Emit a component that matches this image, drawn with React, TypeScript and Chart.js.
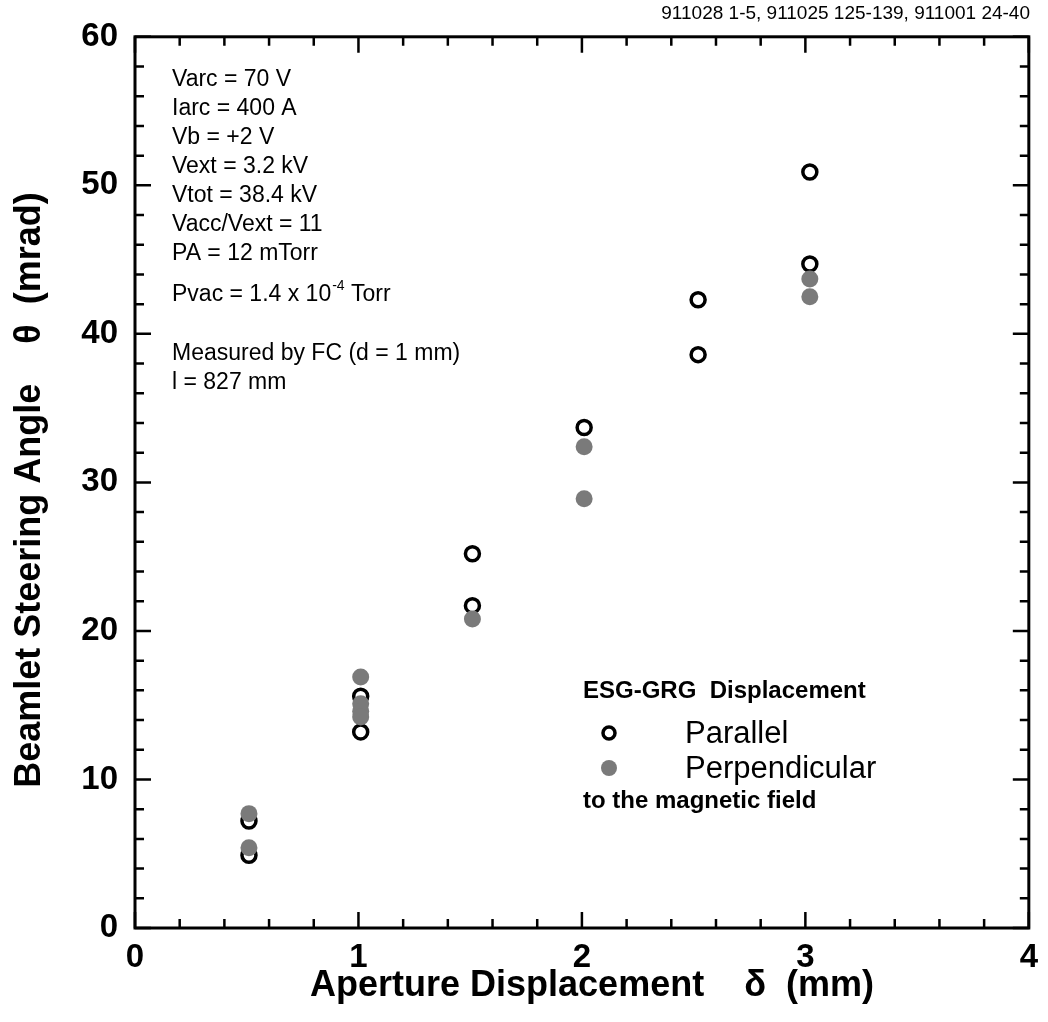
import { useEffect, useRef } from 'react';
import { Chart, registerables } from 'chart.js';

Chart.register(...registerables);

// ---- data ----
const parallelX = [0.51, 0.51, 1.01, 1.01, 1.51, 1.51, 2.01, 2.52, 2.52, 3.02, 3.02];
const parallelY = [7.2, 4.9, 15.6, 13.2, 25.2, 21.7, 33.7, 42.3, 38.6, 50.9, 44.7];
const perpX = [0.51, 0.51, 1.01, 1.01, 1.01, 1.01, 1.51, 2.01, 2.01, 3.02, 3.02];
const perpY = [7.7, 5.4, 16.9, 15.1, 14.6, 14.2, 20.8, 32.4, 28.9, 43.7, 42.5];

const xMajorTicks = [0, 1, 2, 3, 4];
const yMajorTicks = [0, 10, 20, 30, 40, 50, 60];
const xMinorStep = 0.2;
const yMinorStep = 2;

const headerText = '911028 1-5, 911025 125-139, 911001 24-40';
const xTitle = 'Aperture Displacement    \u03b4  (mm)';
const yTitle = 'Beamlet Steering Angle    \u03b8  (mrad)';
const conditionLines = [
  'Varc = 70 V',
  'Iarc = 400 A',
  'Vb = +2 V',
  'Vext = 3.2 kV',
  'Vtot = 38.4 kV',
  'Vacc/Vext = 11',
  'PA = 12 mTorr',
];
const pvacText = ['Pvac = 1.4 x 10', '-4', ' Torr'];
const measuredLines = ['Measured by FC (d = 1 mm)', 'l = 827 mm'];
const legendTitle = 'ESG-GRG  Displacement';
const legendLabels = ['Parallel', 'Perpendicular'];
const legendNote = 'to the magnetic field';

const FONT = "'Liberation Sans', Arial, Helvetica, sans-serif";
const GRAY = '#7a7a7a';

const overlay = {
  id: 'overlay',
  beforeDraw(chart: any) {
    const { ctx, width, height } = chart;
    ctx.save();
    ctx.fillStyle = '#ffffff';
    ctx.fillRect(0, 0, width, height);
    ctx.restore();
  },
  afterDraw(chart: any) {
    const { ctx, chartArea: a } = chart;
    const xs = chart.scales.x;
    const ys = chart.scales.y;
    ctx.save();
    ctx.strokeStyle = '#000';
    ctx.fillStyle = '#000';

    // frame
    ctx.lineWidth = 3;
    ctx.strokeRect(a.left, a.top, a.right - a.left, a.bottom - a.top);

    // inward ticks on four sides
    ctx.lineWidth = 2.5;
    const nx = Math.round((xs.max - xs.min) / xMinorStep);
    for (let k = 0; k <= nx; k++) {
      const v = xs.min + k * xMinorStep;
      const major = xMajorTicks.some((t) => Math.abs(t - v) < 1e-6);
      const len = major ? 16 : 9;
      const px = xs.getPixelForValue(v);
      ctx.beginPath();
      ctx.moveTo(px, a.bottom);
      ctx.lineTo(px, a.bottom - len);
      ctx.moveTo(px, a.top);
      ctx.lineTo(px, a.top + len);
      ctx.stroke();
    }
    const ny = Math.round((ys.max - ys.min) / yMinorStep);
    for (let k = 0; k <= ny; k++) {
      const v = ys.min + k * yMinorStep;
      const major = yMajorTicks.some((t) => Math.abs(t - v) < 1e-6);
      const len = major ? 16 : 9;
      const py = ys.getPixelForValue(v);
      ctx.beginPath();
      ctx.moveTo(a.left, py);
      ctx.lineTo(a.left + len, py);
      ctx.moveTo(a.right, py);
      ctx.lineTo(a.right - len, py);
      ctx.stroke();
    }

    // header
    ctx.font = `19px ${FONT}`;
    ctx.textAlign = 'right';
    ctx.textBaseline = 'middle';
    ctx.fillText(headerText, 1030, 14);

    // axis titles
    ctx.font = `bold 36px ${FONT}`;
    ctx.textAlign = 'center';
    ctx.fillText(xTitle, 592, 986);
    ctx.save();
    ctx.translate(30, 490);
    ctx.rotate(-Math.PI / 2);
    ctx.fillText(yTitle, 0, 0);
    ctx.restore();

    // conditions text block
    ctx.textAlign = 'left';
    ctx.font = `23px ${FONT}`;
    const tx = 172;
    conditionLines.forEach((s, i) => ctx.fillText(s, tx, 80 + i * 29));
    const py = 295;
    ctx.fillText(pvacText[0], tx, py);
    const w = ctx.measureText(pvacText[0]).width;
    ctx.font = `14px ${FONT}`;
    ctx.fillText(pvacText[1], tx + w + 1, py - 9);
    const w2 = ctx.measureText(pvacText[1]).width;
    ctx.font = `23px ${FONT}`;
    ctx.fillText(pvacText[2], tx + w + w2 + 1, py);
    measuredLines.forEach((s, i) => ctx.fillText(s, tx, 354 + i * 29));

    // legend
    ctx.font = `bold 24px ${FONT}`;
    ctx.fillText(legendTitle, 583, 691);
    ctx.font = `31px ${FONT}`;
    ctx.fillText(legendLabels[0], 685, 734);
    ctx.fillText(legendLabels[1], 685, 769);
    // legend markers
    ctx.lineWidth = 3.5;
    ctx.beginPath();
    ctx.arc(609, 733, 6, 0, Math.PI * 2);
    ctx.stroke();
    ctx.fillStyle = GRAY;
    ctx.beginPath();
    ctx.arc(609, 768, 8, 0, Math.PI * 2);
    ctx.fill();
    ctx.fillStyle = '#000';
    ctx.font = `bold 24px ${FONT}`;
    ctx.fillText(legendNote, 583, 801);

    ctx.restore();
  },
};

export default function App() {
  const ref = useRef<HTMLCanvasElement | null>(null);
  useEffect(() => {
    if (!ref.current) return;
    const chart = new Chart(ref.current, {
      type: 'scatter',
      data: {
        datasets: [
          {
            label: 'Perpendicular',
            data: perpX.map((x, i) => ({ x, y: perpY[i] })),
            pointRadius: 8.5,
            pointBorderWidth: 0,
            pointBackgroundColor: GRAY,
            pointBorderColor: GRAY,
            order: 0,
          },
          {
            label: 'Parallel',
            data: parallelX.map((x, i) => ({ x, y: parallelY[i] })),
            pointRadius: 7,
            pointBorderWidth: 3.5,
            pointBackgroundColor: '#ffffff',
            pointBorderColor: '#000000',
            order: 1,
          },
        ],
      },
      options: {
        responsive: false,
        animation: false,
        events: [],
        layout: { padding: { left: 0, top: 32, right: 13, bottom: 0 } },
        plugins: { legend: { display: false }, tooltip: { enabled: false } },
        scales: {
          x: {
            type: 'linear',
            min: 0,
            max: 4,
            afterFit: (s: any) => {
              s.height = 94;
            },
            afterBuildTicks: (s: any) => {
              s.ticks = xMajorTicks.map((v) => ({ value: v }));
            },
            ticks: {
              padding: 10,
              color: '#000',
              font: { family: FONT, size: 33, weight: 'bold' },
            },
            grid: { display: false, drawTicks: false },
            border: { display: false },
          },
          y: {
            type: 'linear',
            min: 0,
            max: 60,
            afterFit: (s: any) => {
              s.width = 135;
            },
            afterBuildTicks: (s: any) => {
              s.ticks = yMajorTicks.map((v) => ({ value: v }));
            },
            ticks: {
              padding: 17,
              color: '#000',
              font: { family: FONT, size: 33, weight: 'bold' },
            },
            grid: { display: false, drawTicks: false },
            border: { display: false },
          },
        },
      },
      plugins: [overlay],
    });
    return () => chart.destroy();
  }, []);
  return (
    <div style={{ position: 'absolute', left: 0, top: 0, width: 1048, height: 1022 }}>
      <canvas ref={ref} width={1048} height={1022} style={{ display: 'block' }} />
    </div>
  );
}
